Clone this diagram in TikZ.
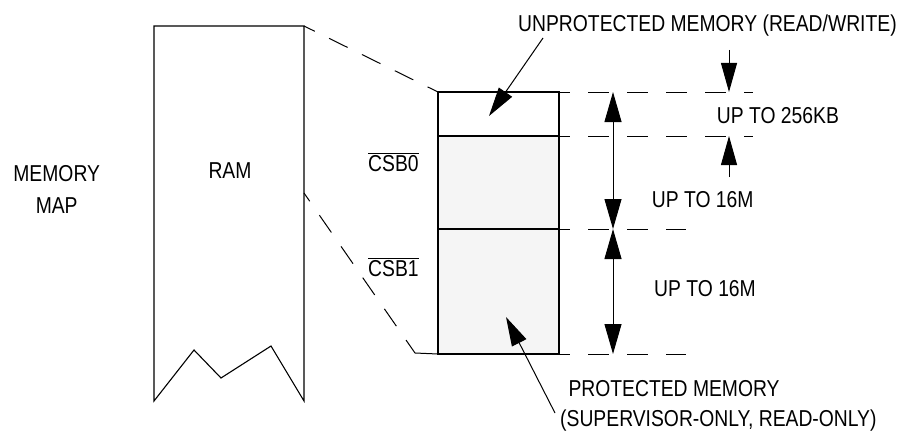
\documentclass[tikz,border=0pt]{standalone}
\usepackage{fontspec}
\setmainfont{Liberation Sans}[FakeStretch=0.84]
\usepackage{xcolor}
\usepackage{tikz}
\usetikzlibrary{arrows.meta, positioning}
\definecolor{protfill}{RGB}{245,245,245}

\begin{document}
\begin{tikzpicture}[x=1pt, y=-1pt,
  lbl/.style={inner sep=0pt, anchor=base west, font=\fontsize{23}{28}\selectfont},
  edge/.style={line width=1.1pt},
  guide/.style={line width=1pt, dash pattern=on 21pt off 18pt, dash phase=10pt},
  slanttop/.style={line width=1pt, dash pattern=on 20.6pt off 16pt, dash phase=8.6pt},
  slantbot/.style={line width=1pt, dash pattern=on 21pt off 17pt, dash phase=11pt},
  arr/.style={-{Triangle[length=29pt, width=16pt]}, line width=1pt},
  dimarr/.style={{Triangle[length=30pt, width=17pt]}-{Triangle[length=30pt, width=17pt]}, line width=1pt}
]
  \useasboundingbox (0,0) rectangle (904,436);

  % RAM strip
  \coordinate (ramtl) at (154,26);
  \coordinate (ramtr) at (304,26);
  \coordinate (rambl) at (154,401);
  \coordinate (rambr) at (304,401);
  \coordinate (ramcut) at (304,193);
  \draw[edge] (rambl) -- (ramtl) -- (ramtr) -- (rambr)
    -- (271,346) -- (221,378) -- (194,350) -- cycle;

  % memory block
  \coordinate (blktop) at (438,92);
  \coordinate (blkmid) at (438,136);
  \coordinate (blkcs)  at (438,229);
  \coordinate (blkbot) at (438,354);
  \coordinate (blkend) at (415,353);
  \fill[protfill] (blkmid) rectangle (559,354);
  \draw[edge] (blktop) rectangle (559,354);
  \draw[edge] (blkmid) -- (559,136);
  \draw[edge] (blkcs) -- (559,229);

  % zoom lines
  \draw[slanttop] (ramtr) -- (blktop);
  \draw[slantbot] (ramcut) -- (blkend);
  \draw[line width=1pt] (blkend) -- (blkbot);

  % guide lines
  \draw[guide] (559,92) -- (753,92);
  \draw[guide] (559,136) -- (753,136);
  \draw[guide] (559,229) -- (686,229);
  \draw[guide] (559,354) -- (686,354);

  % sizes
  \draw[dimarr] (613,92) -- (613,229);
  \draw[dimarr] (613,229) -- (613,354);
  \draw[arr] (729,50) -- (729,92);
  \draw[arr] (729,177) -- (729,136);

  % labels
  \node[lbl, anchor=base] (meml) at (56.7,181.7) {MEMORY};
  \node[lbl, anchor=base] (mapl) at (56.7,213.3) {MAP};
  \node[lbl] (raml) at (208.3,178.3) {RAM};
  \node[lbl] (csa) at (368,171) {$\overline{\hbox{CSB0}}$};
  \node[lbl] (csb) at (368,276) {$\overline{\hbox{CSB1}}$};
  \node[lbl] (unprot) at (518,32) {UNPROTECTED MEMORY (READ/WRITE)};
  \node[lbl] (kb) at (716.7,123.3) {UP TO 256KB};
  \node[lbl] (sza) at (651.7,207.3) {UP TO 16M};
  \node[lbl] (szb) at (654,296.7) {UP TO 16M};
  \node[lbl] (prot) at (568.3,396.7) {PROTECTED MEMORY};
  \node[lbl] (protb) at (560,426.7) {(SUPERVISOR-ONLY, READ-ONLY)};

  % pointers
  \coordinate (unprottip) at (489,116);
  \coordinate (prottip) at (506,317);
  \draw[arr] (543,38) -- (unprottip);
  \draw[arr] (555,413) -- (prottip);
\end{tikzpicture}
\end{document}
